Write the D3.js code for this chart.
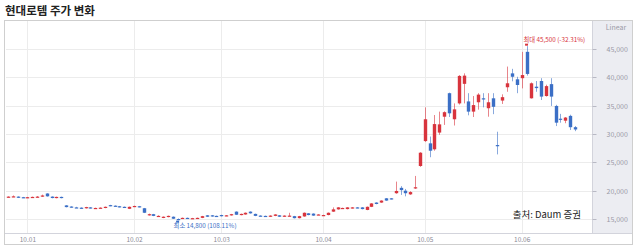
<!DOCTYPE html>
<html>
  <head>
    <meta charset="utf-8" />
    <title>현대로템 주가 변화</title>
    <script src="https://d3js.org/d3.v7.min.js"></script>
    <style>
        body {margin: 0; background: #fff;}
        svg text {font-family: "Noto Sans CJK KR", "Noto Sans", sans-serif;}
    </style>
  </head>
  <body>

    <svg id="chart" width="640" height="251"></svg>

    <script>

        // daily candles, oldest first
        var openVals = [18850,18950,18950,18850,18750,18800,18850,18950,19500,18950,18700,18900,
            17400,17200,17050,17000,16900,17050,16900,16950,16950,17450,17350,17250,17150,16800,17150,17250,16900,15650,
            15850,15500,15200,15350,15400,15000,15100,15200,15100,15150,15200,15650,15650,15550,15700,15550,15650,16300,15700,15800,
            16300,15900,15600,15550,15400,15550,15650,15450,15550,15500,15150,15450,16000,15950,15750,15650,15700,16300,16700,16850,
            16750,16900,17050,17050,16600,17150,17900,17900,18650,18650,19550,20500,20000,19350,20400,24350,28750,28350,27300,30250,
            33050,37200,32600,35400,38850,35750,33950,35600,36300,34550,36300,28050,35900,38250,40700,39650,39850,44500,36300,38350,
            39350,36700,38800,34950,32700,32350,33200,31200];
        var closeVals = [18950,19000,18800,18750,18850,18900,18950,19150,19000,18700,18900,18700,
            17100,17050,17000,16850,17100,16900,16950,17000,17150,17300,17250,17100,17100,17150,17300,17100,16100,15850,
            15550,15550,15400,15550,15050,14950,15200,15100,15150,15200,15500,15400,15450,15450,15500,15650,15850,15750,15900,16100,
            16000,15550,15500,15500,15600,15800,15400,15600,15600,15150,15500,16100,15700,15600,15800,15700,16100,16700,17050,16950,
            17050,17050,16950,16750,17150,17750,17650,18250,18250,18500,19950,20100,19550,19750,20600,26700,32600,27050,31750,31700,
            33850,33650,34350,40250,40300,33950,35100,36950,36100,35600,34800,28000,36500,38950,40100,38650,40400,40600,38950,38100,
            36600,38450,36600,32000,32650,32900,31200,30800];
        var highVals = [19000,19150,19000,18900,18900,18950,19050,19300,19550,19000,18950,18950,
            17450,17250,17150,17050,17150,17100,17000,17050,17200,17500,17400,17300,17200,17200,17350,17300,16950,15950,
            15900,15650,15450,15600,15450,15100,15250,15250,15200,15250,15550,15700,15700,15600,15750,15700,15900,16350,15950,16150,
            16350,15950,15650,15600,15650,15850,15700,15650,16100,15550,15550,16150,16050,16000,15850,15750,16150,17050,17100,17000,
            17100,17100,17100,17100,17200,17800,17950,18300,18700,18700,21600,20800,20300,19900,22600,26800,34700,29550,33350,33950,
            34000,37300,35400,40400,40700,37200,36700,37200,37200,37200,37200,30400,37000,41900,41500,40100,44500,45500,39100,39350,
            39850,38700,39850,35150,33550,33000,33400,31400];
        var lowVals = [18800,18900,18700,18700,18700,18750,18800,18900,18950,18650,18650,18650,
            17050,17000,16950,16800,16850,16850,16850,16900,16900,17250,17200,17050,17050,16750,17100,17050,16050,15600,
            15500,15450,15150,15300,15000,14800,15050,15050,15050,15100,15150,15350,15400,15400,15450,15500,15600,15700,15650,15750,
            15950,15500,15450,15450,15350,15500,15350,15400,15500,15100,15100,15400,15650,15550,15700,15600,15650,16250,16650,16800,
            16700,16850,16900,16700,16550,17100,17600,17850,18200,18450,19450,19250,19000,19250,20300,24200,28600,25900,27050,29850,
            31600,33000,31500,35200,35400,33300,33000,34300,34700,33050,33500,26400,35300,37450,39300,37200,38050,40300,36250,37450,
            36000,36600,34950,31400,32000,31900,30700,30500];

        var monthLabels = ["10.01", "10.02", "10.03", "10.04", "10.05", "10.06"];
        var monthIdx = [4, 26, 44, 65, 86, 106];
        var yTicks = [15000, 20000, 25000, 30000, 35000, 40000, 45000];

        var candles = openVals.map(function(o, i){
            return {i: i, o: o, c: closeVals[i], h: highVals[i], l: lowVals[i]};
        });

        var svg = d3.select("#chart");

        var x = d3.scaleLinear().domain([0, candles.length - 1]).range([8, 575]);
        var y = d3.scaleLinear().domain([15000, 45000]).range([219, 49]);

        var RED = "#d8343d", BLUE = "#3b6fc6";
        var pct = d3.formatLocale({decimal: ".", thousands: ",", grouping: [3], currency: ["", ""], minus: "-"}).format(".2f");

        // title
        svg.append("text")
            .attr("x", 5).attr("y", 15)
            .attr("font-size", 11.5).attr("font-weight", "bold")
            .attr("fill", "#222")
            .text("현대로템 주가 변화");

        // frame
        svg.append("rect")
            .attr("x", 4.5).attr("y", 20.5).attr("width", 628).attr("height", 224)
            .attr("fill", "#fff").attr("stroke", "#cfcfcf");
        svg.append("rect")
            .attr("x", 592).attr("y", 21).attr("width", 40).attr("height", 212)
            .attr("fill", "#ecedf2");

        // grid
        svg.append("g").selectAll("line").data(yTicks).enter().append("line")
            .attr("x1", 6).attr("x2", 592)
            .attr("y1", function(d){ return Math.round(y(d)) + 0.5; })
            .attr("y2", function(d){ return Math.round(y(d)) + 0.5; })
            .attr("stroke", "#ececec");
        svg.append("g").selectAll("line").data(monthIdx).enter().append("line")
            .attr("x1", function(d){ return Math.round(x(d)) + 0.5; })
            .attr("x2", function(d){ return Math.round(x(d)) + 0.5; })
            .attr("y1", 21).attr("y2", 233)
            .attr("stroke", "#ececec");

        svg.append("line").attr("x1", 592.5).attr("x2", 592.5).attr("y1", 21).attr("y2", 233)
            .attr("stroke", "#d3d4dc");
        svg.append("line").attr("x1", 5).attr("x2", 632).attr("y1", 233.5).attr("y2", 233.5)
            .attr("stroke", "#d3d4dc");

        // right axis
        var yAxis = svg.append("g")
            .attr("transform", "translate(592.5,0)")
            .call(d3.axisRight(y).tickValues(yTicks).tickSize(4).tickPadding(10)
                .tickFormat(d3.format(",")));
        yAxis.select(".domain").remove();
        yAxis.selectAll("line").attr("stroke", "#b8b9c4");
        yAxis.selectAll("text").attr("font-size", 7).attr("fill", "#9a9aa6")
            .attr("font-family", "Noto Sans, sans-serif");
        yAxis.selectAll(".tick").attr("transform", function(d){
            return "translate(0," + (Math.round(y(d)) + 0.5) + ")";
        });

        svg.append("text").attr("x", 616).attr("y", 30).attr("text-anchor", "middle")
            .attr("font-size", 7).attr("fill", "#9a9aa6").text("Linear");

        // bottom axis
        var xAxis = svg.append("g")
            .attr("transform", "translate(0,233)")
            .call(d3.axisBottom(x).tickValues(monthIdx).tickSize(0).tickPadding(4)
                .tickFormat(function(d, k){ return monthLabels[k]; }));
        xAxis.select(".domain").remove();
        xAxis.selectAll("text").attr("font-size", 6.5).attr("fill", "#8a8a96")
            .attr("font-family", "Noto Sans, sans-serif");

        // candles
        var g = svg.append("g");
        var bw = 3.4;

        g.selectAll(".wick").data(candles).enter().append("line")
            .attr("class", "wick")
            .attr("x1", function(d){ return Math.round(x(d.i)) + 0.5; })
            .attr("x2", function(d){ return Math.round(x(d.i)) + 0.5; })
            .attr("y1", function(d){ return y(d.h); })
            .attr("y2", function(d){ return y(d.l); })
            .attr("stroke", function(d){ return d.c >= d.o ? RED : BLUE; })
            .attr("stroke-opacity", 0.6);

        g.selectAll(".body").data(candles).enter().append("rect")
            .attr("class", "body")
            .attr("x", function(d){ return Math.round(x(d.i)) + 0.5 - bw / 2; })
            .attr("width", bw)
            .attr("y", function(d){ return y(Math.max(d.o, d.c)); })
            .attr("height", function(d){ return Math.max(1.2, y(Math.min(d.o, d.c)) - y(Math.max(d.o, d.c))); })
            .attr("fill", function(d){ return d.c >= d.o ? RED : BLUE; });

        // max / min markers
        var hiIdx = d3.maxIndex(candles, function(d){ return d.h; });
        var loIdx = d3.minIndex(candles, function(d){ return d.l; });
        var last = closeVals[closeVals.length - 1];
        var hi = candles[hiIdx], lo = candles[loIdx];

        svg.append("text").attr("x", x(hi.i) - 3).attr("y", y(hi.h) - 4)
            .attr("font-size", 6.3).attr("fill", RED)
            .text("최대 " + d3.format(",")(hi.h) + " (" + pct((last - hi.h) / hi.h * 100) + "%)");
        svg.append("path")
            .attr("d", "M" + (x(hi.i) - 1.5) + "," + (y(hi.h) - 2.5) + "h3v2h-3z")
            .attr("fill", RED);

        svg.append("text").attr("x", x(lo.i) - 4).attr("y", y(lo.l) + 8)
            .attr("font-size", 6.3).attr("fill", BLUE)
            .text("최소 " + d3.format(",")(lo.l) + " (" + pct((last - lo.l) / lo.l * 100) + "%)");
        svg.append("path")
            .attr("d", "M" + (x(lo.i) - 1.5) + "," + (y(lo.l) + 0.5) + "h3v2h-3z")
            .attr("fill", BLUE);

        // source
        svg.append("text").attr("x", 581).attr("y", 218).attr("text-anchor", "end")
            .attr("font-size", 9.5).attr("fill", "#222")
            .text("출처: Daum 증권");

    </script>

  </body>
</html>
